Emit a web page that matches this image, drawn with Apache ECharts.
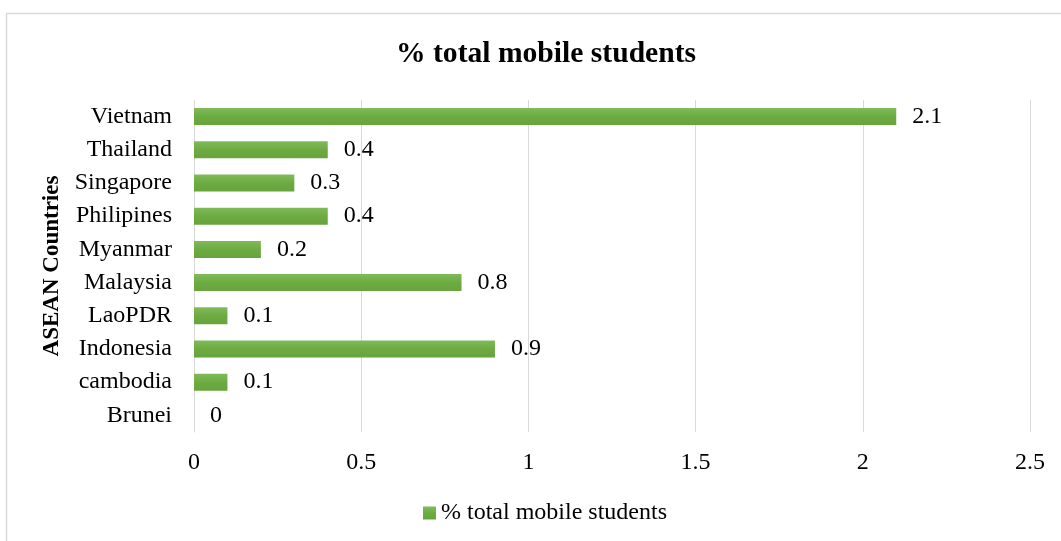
<!DOCTYPE html>
<html><head><meta charset="utf-8">
<script src="https://cdn.jsdelivr.net/npm/echarts@6/dist/echarts.min.js"></script>
<style>html,body{margin:0;padding:0;background:#fff}#c{width:1061px;height:541px}</style>
</head><body><div id="c"></div>
<script>
const categories = ['Brunei','cambodia','Indonesia','LaoPDR','Malaysia','Myanmar','Philipines','Singapore','Thailand','Vietnam'];
const values = [0,0.1,0.9,0.1,0.8,0.2,0.4,0.3,0.4,2.1];
const seriesName = '% total mobile students';
const xTicks = {min:0,max:2.5,interval:0.5};
const font = '"Liberation Serif","Times New Roman",serif';
const chart = echarts.init(document.getElementById('c'));
chart.setOption({
  animation:false,
  backgroundColor:'#fff',
  textStyle:{fontFamily:font},
  title:{text:'% total mobile students',left:391,top:34,textStyle:{fontFamily:font,fontSize:29.6,fontWeight:'bold',color:'#000'}},
  graphic:[{type:'rect',shape:{x:6.5,y:13.5,width:1070,height:560},style:{fill:'none',stroke:'#d9d9d9',lineWidth:1.5},silent:true,z:-1}],
  legend:{bottom:11,left:418,itemWidth:13,itemHeight:13,itemGap:5,icon:'rect',textStyle:{fontFamily:font,fontSize:24,color:'#000'},data:[seriesName]},
  grid:{left:194,right:31,top:100,bottom:109,containLabel:false},
  xAxis:{type:'value',min:xTicks.min,max:xTicks.max,interval:xTicks.interval,
    axisLine:{show:false},axisTick:{show:false},
    axisLabel:{fontFamily:font,fontSize:24,color:'#000',margin:19},
    splitLine:{lineStyle:{color:'#d9d9d9',width:1}}},
  yAxis:{type:'category',data:categories,name:'ASEAN Countries',nameLocation:'middle',nameGap:121,
    nameTextStyle:{fontFamily:font,fontSize:23,fontWeight:'bold',color:'#000'},
    axisLine:{show:true,lineStyle:{color:'#d9d9d9'}},axisTick:{show:false},
    axisLabel:{fontFamily:font,fontSize:24,color:'#000',margin:22}},
  series:[{name:seriesName,type:'bar',data:values,barWidth:17,
    itemStyle:{color:new echarts.graphic.LinearGradient(0,0,0,1,[{offset:0,color:'#7fbb59'},{offset:0.5,color:'#6dab42'},{offset:1,color:'#67a43c'}])},
    label:{show:true,position:'right',distance:16,fontFamily:font,fontSize:24,color:'#000'}}]
});
</script></body></html>
